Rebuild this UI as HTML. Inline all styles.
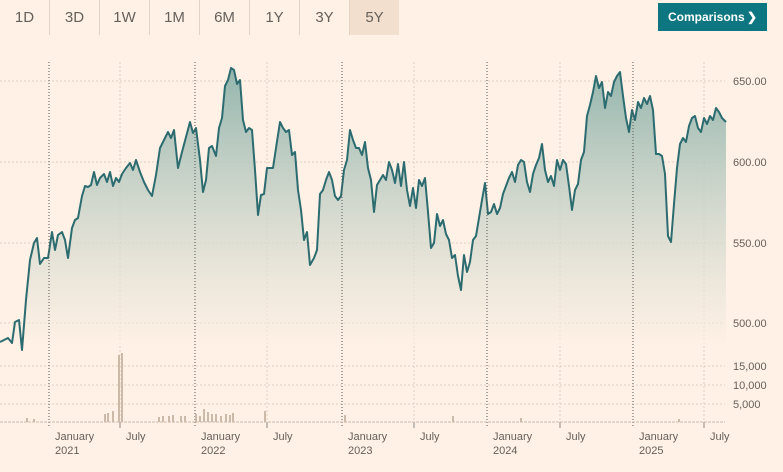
<!DOCTYPE html><html><head><style>
body{margin:0;background:#fff1e5;font-family:"Liberation Sans",sans-serif;}
.w{position:relative;width:783px;height:472px;overflow:hidden;background:#fff1e5}
.tabs{position:absolute;left:0;top:0;height:35px;display:flex}
.tabs div{width:49px;height:35px;line-height:35px;text-align:center;color:#66605c;font-size:15px;border-right:1px solid #e3d2c5}
.tabs div.a{background:#f2dfce;border-right:none}
.cmp{position:absolute;left:658px;top:3px;width:109px;height:28px;background:#0d7680;color:#fff;font-size:12px;font-weight:bold;line-height:28px;padding-left:10px;box-sizing:border-box}
</style></head><body><div class="w">
<div class="tabs"><div>1D</div><div>3D</div><div>1W</div><div>1M</div><div>6M</div><div>1Y</div><div>3Y</div><div class="a">5Y</div></div>
<div class="cmp">Comparisons <span style="position:absolute;right:10px">&#x276F;</span></div>
<svg width="783" height="472" style="position:absolute;left:0;top:0" font-family="Liberation Sans" font-size="11" fill="#66605c">
<defs><linearGradient id="g" x1="0" y1="0" x2="0" y2="1"><stop offset="0" stop-color="#93b5ad"/><stop offset="1" stop-color="#fff1e5" stop-opacity="0.6"/></linearGradient></defs>
<g stroke="#e0cfc2" stroke-dasharray="2,2">
<line x1="0" y1="81" x2="725" y2="81"/><line x1="0" y1="162" x2="725" y2="162"/><line x1="0" y1="243" x2="725" y2="243"/><line x1="0" y1="323" x2="725" y2="323"/>
<line x1="0" y1="366" x2="725" y2="366"/><line x1="0" y1="385" x2="725" y2="385"/><line x1="0" y1="404" x2="725" y2="404"/>
<line x1="120" y1="62" x2="120" y2="422"/><line x1="267" y1="62" x2="267" y2="422"/><line x1="414" y1="62" x2="414" y2="422"/><line x1="560" y1="62" x2="560" y2="422"/><line x1="704" y1="62" x2="704" y2="422"/>
</g>
<polygon fill="url(#g)" points="0,342 8,338 12,343 15,322 19,320 22,350 26,300 30,260 34,243 37,238 40,264 44,258 48,258 52,232 55,250 58,235 62,232 65,240 68,258 72,228 75,220 78,218 82,196 85,186 88,187 91,185 94,172 97,185 100,178 104,174 107,182 110,172 113,186 116,178 119,182 122,174 126,168 130,163 133,170 136,160 140,172 144,182 148,190 152,196 156,175 160,148 164,140 168,132 171,138 174,130 178,168 182,152 186,137 190,122 193,133 196,128 200,160 203,192 206,180 209,148 212,146 216,156 219,128 222,118 225,86 228,80 231,68 234,70 237,84 240,80 243,120 246,132 249,128 252,130 255,170 258,215 261,195 264,194 267,168 270,168 273,168 276,148 280,122 283,128 286,132 289,130 292,155 295,152 298,190 301,210 304,240 307,232 310,265 314,258 317,250 320,194 323,190 326,180 329,172 332,180 335,196 338,200 341,196 344,170 347,160 350,130 353,140 356,148 359,148 362,155 365,142 368,168 371,180 374,212 377,185 380,180 383,175 386,180 389,162 392,170 395,183 398,164 401,186 404,162 407,190 410,206 413,188 416,208 419,180 422,186 425,178 428,212 431,248 434,243 437,214 440,226 443,220 446,234 449,240 452,258 455,255 458,276 461,290 464,255 467,272 470,262 473,240 476,236 479,218 482,200 485,183 488,214 491,212 494,204 497,214 500,208 503,194 506,186 509,178 512,172 515,182 518,165 521,160 524,162 527,182 530,192 533,174 536,165 539,158 542,144 545,170 548,182 551,176 554,186 557,160 560,170 563,160 566,164 569,186 572,210 575,190 578,184 581,160 584,152 587,116 590,105 593,92 596,76 599,88 602,82 605,108 608,92 611,96 614,82 617,76 620,72 623,96 626,118 629,132 632,110 635,120 638,102 641,108 644,98 647,104 650,96 653,110 656,154 659,154 662,156 665,174 668,236 671,242 674,204 677,168 680,144 683,138 686,142 689,126 692,118 695,116 698,128 701,132 704,118 707,124 710,116 713,120 716,108 719,112 722,118 726,122 726,345 0,345"/>
<polyline fill="none" stroke="#2c6c70" stroke-width="2" stroke-linejoin="round" points="0,342 8,338 12,343 15,322 19,320 22,350 26,300 30,260 34,243 37,238 40,264 44,258 48,258 52,232 55,250 58,235 62,232 65,240 68,258 72,228 75,220 78,218 82,196 85,186 88,187 91,185 94,172 97,185 100,178 104,174 107,182 110,172 113,186 116,178 119,182 122,174 126,168 130,163 133,170 136,160 140,172 144,182 148,190 152,196 156,175 160,148 164,140 168,132 171,138 174,130 178,168 182,152 186,137 190,122 193,133 196,128 200,160 203,192 206,180 209,148 212,146 216,156 219,128 222,118 225,86 228,80 231,68 234,70 237,84 240,80 243,120 246,132 249,128 252,130 255,170 258,215 261,195 264,194 267,168 270,168 273,168 276,148 280,122 283,128 286,132 289,130 292,155 295,152 298,190 301,210 304,240 307,232 310,265 314,258 317,250 320,194 323,190 326,180 329,172 332,180 335,196 338,200 341,196 344,170 347,160 350,130 353,140 356,148 359,148 362,155 365,142 368,168 371,180 374,212 377,185 380,180 383,175 386,180 389,162 392,170 395,183 398,164 401,186 404,162 407,190 410,206 413,188 416,208 419,180 422,186 425,178 428,212 431,248 434,243 437,214 440,226 443,220 446,234 449,240 452,258 455,255 458,276 461,290 464,255 467,272 470,262 473,240 476,236 479,218 482,200 485,183 488,214 491,212 494,204 497,214 500,208 503,194 506,186 509,178 512,172 515,182 518,165 521,160 524,162 527,182 530,192 533,174 536,165 539,158 542,144 545,170 548,182 551,176 554,186 557,160 560,170 563,160 566,164 569,186 572,210 575,190 578,184 581,160 584,152 587,116 590,105 593,92 596,76 599,88 602,82 605,108 608,92 611,96 614,82 617,76 620,72 623,96 626,118 629,132 632,110 635,120 638,102 641,108 644,98 647,104 650,96 653,110 656,154 659,154 662,156 665,174 668,236 671,242 674,204 677,168 680,144 683,138 686,142 689,126 692,118 695,116 698,128 701,132 704,118 707,124 710,116 713,120 716,108 719,112 722,118 726,122"/>
<g stroke="#555" stroke-dasharray="1,2"><line x1="49" y1="62" x2="49" y2="428"/><line x1="195" y1="62" x2="195" y2="428"/><line x1="342" y1="62" x2="342" y2="428"/><line x1="487" y1="62" x2="487" y2="428"/><line x1="633" y1="62" x2="633" y2="428"/></g>
<g stroke="#888"><line x1="120" y1="422" x2="120" y2="428"/><line x1="267" y1="422" x2="267" y2="428"/><line x1="414" y1="422" x2="414" y2="428"/><line x1="560" y1="422" x2="560" y2="428"/><line x1="704" y1="422" x2="704" y2="428"/></g>
<line x1="0" y1="422" x2="725" y2="422" stroke="#cdbcb0" stroke-dasharray="3,1"/>
<g fill="#ccb9a8">
<rect x="118" y="355" width="2" height="67"/><rect x="121" y="353" width="2" height="69"/>
<rect x="104" y="414" width="2" height="8"/><rect x="107" y="413" width="2" height="9"/><rect x="112" y="411" width="2" height="11"/>
<rect x="26" y="418" width="2" height="4"/><rect x="33" y="419" width="2" height="3"/>
<rect x="158" y="417" width="2" height="5"/><rect x="162" y="416" width="2" height="6"/><rect x="168" y="416" width="2" height="6"/><rect x="172" y="415" width="2" height="7"/><rect x="180" y="416" width="2" height="6"/><rect x="184" y="416" width="2" height="6"/>
<rect x="195" y="414" width="2" height="8"/><rect x="199" y="416" width="2" height="6"/><rect x="203" y="409" width="2" height="13"/><rect x="207" y="412" width="2" height="10"/><rect x="211" y="414" width="2" height="8"/><rect x="215" y="414" width="2" height="8"/><rect x="220" y="416" width="2" height="6"/><rect x="225" y="414" width="2" height="8"/><rect x="229" y="415" width="2" height="7"/><rect x="232" y="413" width="2" height="9"/>
<rect x="264" y="411" width="2" height="11"/><rect x="344" y="415" width="2" height="7"/><rect x="452" y="416" width="2" height="6"/><rect x="520" y="418" width="2" height="4"/><rect x="678" y="419" width="2" height="3"/>
</g>
<g text-anchor="start"><text x="733" y="85">650.00</text><text x="733" y="166">600.00</text><text x="733" y="247">550.00</text><text x="733" y="327">500.00</text>
<text x="733" y="370">15,000</text><text x="733" y="389">10,000</text><text x="733" y="408">5,000</text></g>
<g font-size="11"><text x="55" y="440">January</text><text x="55" y="454">2021</text><text x="126" y="440">July</text>
<text x="201" y="440">January</text><text x="201" y="454">2022</text><text x="273" y="440">July</text>
<text x="348" y="440">January</text><text x="348" y="454">2023</text><text x="420" y="440">July</text>
<text x="493" y="440">January</text><text x="493" y="454">2024</text><text x="566" y="440">July</text>
<text x="639" y="440">January</text><text x="639" y="454">2025</text><text x="710" y="440">July</text></g>
</svg></div></body></html>
